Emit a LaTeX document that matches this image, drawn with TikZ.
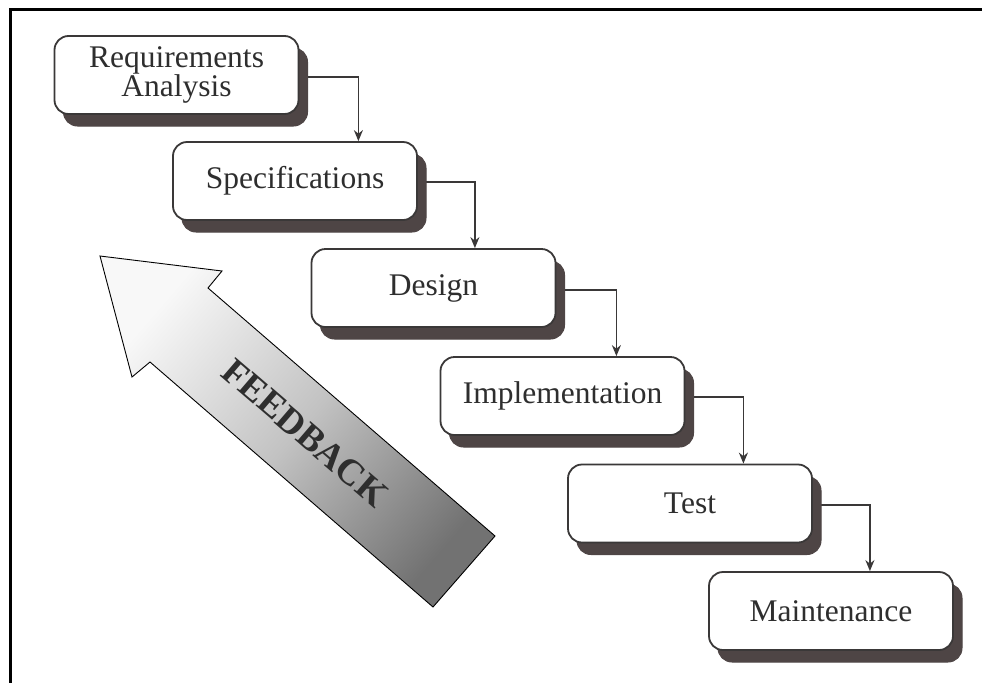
\documentclass[tikz,border=0pt]{standalone}
\usepackage{fontspec}
\setmainfont{Liberation Serif}
\usetikzlibrary{arrows.meta,shadows}
\pgfdeclarelayer{back}
\pgfsetlayers{back,main}
\definecolor{inkc}{HTML}{3A3838}
\definecolor{textc}{HTML}{2E2E2E}
\definecolor{shadowc}{HTML}{4E4545}
\definecolor{fblight}{HTML}{F8F8F8}
\definecolor{fbmid}{HTML}{C2C2C2}
\definecolor{fbdark}{HTML}{727272}
\begin{document}
\begin{tikzpicture}[x=1pt,y=-1pt,
  phase/.style={draw=inkc, line width=1.8pt, fill=white, rounded corners=14pt,
    minimum width=244pt, minimum height=78pt, inner sep=0pt, align=center,
    font=\fontsize{31.5}{28}\selectfont, text=textc,
    general shadow={shadow xshift=9pt, shadow yshift=-12pt, fill=shadowc,
      draw=shadowc, line width=1pt}},
  flow/.style={draw=inkc, line width=1.5pt, -{Stealth[length=11pt,width=9pt]}},
  fbtext/.style={font=\bfseries\fontsize{37}{37}\selectfont, text=textc}]
\useasboundingbox (0,0) rectangle (982,683);

% page frame
\draw[line width=3pt] (982,9) -- (10,9) -- (10,683);

% feedback block arrow, light at the head and darker towards the tail
\shade[draw=black, line width=0.9pt, top color=fblight, bottom color=fbdark,
       middle color=fbmid, shading angle=49.3]
  (100,256) -- (222,271) -- (208,288) -- (495,536) -- (433,607)
  -- (150,362) -- (132,377) -- cycle;
\node[fbtext, rotate=-40.7] (fb) at (305,433) {FEEDBACK};

% phases
\node[phase] (req) at (176.5,75) {Requirements\\Analysis};
\node[phase] (spec) at (295,181) {Specifications};
\node[phase] (des) at (433.5,288) {Design};
\node[phase] (imp) at (562.5,396) {Implementation};
\node[phase] (tst) at (690,503.5) {Test};
\node[phase] (mnt) at (831,611) {Maintenance};

% step connectors
\begin{pgfonlayer}{back}
\draw[flow] ([yshift=-2pt]req.east) -- ++(59,0) coordinate (k1) -- (k1 |- spec.north);
\draw[flow] ([yshift=-1pt]spec.east) -- ++(57,0) coordinate (k2) -- (k2 |- des.north);
\draw[flow] ([yshift=-2pt]des.east) -- ++(60,0) coordinate (k3) -- (k3 |- imp.north);
\draw[flow] ([yshift=-1pt]imp.east) -- ++(58,0) coordinate (k4) -- (k4 |- tst.north);
\draw[flow] ([yshift=-1.5pt]tst.east) -- ++(57,0) coordinate (k5) -- (k5 |- mnt.north);
\end{pgfonlayer}
\end{tikzpicture}
\end{document}
